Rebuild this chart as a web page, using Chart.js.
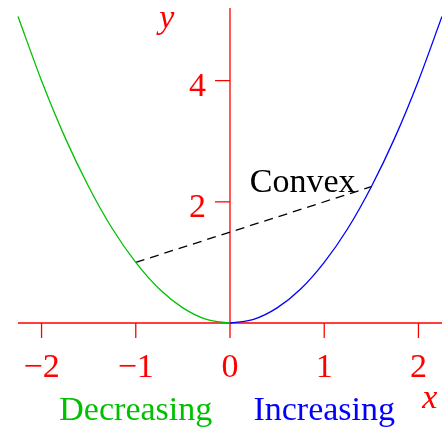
<!DOCTYPE html>
<html>
<head>
<meta charset="utf-8">
<script src="https://cdn.jsdelivr.net/npm/chart.js@4/dist/chart.umd.min.js"></script>
<style>
  body { margin: 0; background: #fff; }
  canvas { display: block; }
</style>
</head>
<body>
<canvas id="convexChart" width="442" height="428"></canvas>
<script>
// y = x^2, split into its decreasing and increasing halves
const leftX = [-2.25, -2, -1.75, -1.5, -1.25, -1, -0.75, -0.5, -0.25, 0];
const leftY = [5.06, 4, 3.06, 2.25, 1.56, 1, 0.56, 0.25, 0.06, 0];
const rightX = [0, 0.25, 0.5, 0.75, 1, 1.25, 1.5, 1.75, 2, 2.25];
const rightY = [0, 0.06, 0.25, 0.56, 1, 1.56, 2.25, 3.06, 4, 5.06];

// chord between two points on the curve
const chordX = [-1, 1.5];
const chordY = [1, 2.25];

// axis ticks
const xTicks = [-2, -1, 0, 1, 2];
const yTicks = [2, 4];

const RED = '#ff0000';
const GREEN = '#00c000';
const BLUE = '#0000ff';
const SERIF = '"Liberation Serif", "DejaVu Serif", serif';

function toPoints(xs, ys) {
    return xs.map((x, i) => ({ x: x, y: ys[i] }));
}

function fmt(v) {
    return v < 0 ? '\u2212' + Math.abs(v) : String(v);
}

// axes through the origin, tick labels and annotations
const axesPlugin = {
    id: 'originAxes',
    beforeDatasetsDraw(chart) {
        const ctx = chart.ctx;
        const xs = chart.scales.x;
        const ys = chart.scales.y;
        const area = chart.chartArea;
        const ox = xs.getPixelForValue(0);
        const oy = ys.getPixelForValue(0);

        ctx.save();
        ctx.strokeStyle = RED;
        ctx.lineWidth = 1.3;
        ctx.beginPath();
        ctx.moveTo(area.left, oy);
        ctx.lineTo(area.right, oy);
        ctx.moveTo(ox, area.top);
        ctx.lineTo(ox, oy);

        xTicks.forEach(v => {
            const px = xs.getPixelForValue(v);
            ctx.moveTo(px, oy);
            ctx.lineTo(px, oy + 15);
        });
        yTicks.forEach(v => {
            const py = ys.getPixelForValue(v);
            ctx.moveTo(ox, py);
            ctx.lineTo(ox - 15, py);
        });
        ctx.stroke();

        ctx.fillStyle = RED;
        ctx.font = '34px ' + SERIF;
        ctx.textBaseline = 'alphabetic';
        ctx.textAlign = 'center';
        xTicks.forEach(v => {
            ctx.fillText(fmt(v), xs.getPixelForValue(v), oy + 54);
        });
        ctx.textAlign = 'right';
        yTicks.forEach(v => {
            ctx.fillText(fmt(v), ox - 24, ys.getPixelForValue(v) + 15);
        });
        ctx.restore();
    },
    afterDraw(chart) {
        const ctx = chart.ctx;
        const xs = chart.scales.x;
        const ys = chart.scales.y;
        const oy = ys.getPixelForValue(0);

        ctx.save();
        ctx.textBaseline = 'alphabetic';

        ctx.font = 'italic 34px ' + SERIF;
        ctx.fillStyle = RED;
        ctx.textAlign = 'center';
        ctx.fillText('x', xs.getPixelForValue(2.12), oy + 85);
        ctx.fillText('y', xs.getPixelForValue(-0.67), ys.getPixelForValue(4.87));

        ctx.font = '34px ' + SERIF;
        ctx.fillStyle = GREEN;
        ctx.fillText('Decreasing', xs.getPixelForValue(-1), oy + 97);
        ctx.fillStyle = BLUE;
        ctx.fillText('Increasing', xs.getPixelForValue(1), oy + 97);

        ctx.fillStyle = '#000';
        ctx.textAlign = 'left';
        ctx.fillText('Convex', xs.getPixelForValue(0.21), ys.getPixelForValue(2.16));
        ctx.restore();
    }
};

new Chart(document.getElementById('convexChart'), {
    type: 'scatter',
    data: {
        datasets: [
            {
                label: 'Decreasing',
                data: toPoints(leftX, leftY),
                showLine: true,
                borderColor: GREEN,
                borderWidth: 1.3,
                pointRadius: 0,
                cubicInterpolationMode: 'monotone',
                clip: false
            },
            {
                label: 'Increasing',
                data: toPoints(rightX, rightY),
                showLine: true,
                borderColor: BLUE,
                borderWidth: 1.3,
                pointRadius: 0,
                cubicInterpolationMode: 'monotone',
                clip: false
            },
            {
                label: 'Chord',
                data: toPoints(chordX, chordY),
                showLine: true,
                borderColor: '#000',
                borderWidth: 1.3,
                borderDash: [9, 6],
                pointRadius: 0,
                clip: false
            }
        ]
    },
    options: {
        responsive: false,
        animation: false,
        layout: {
            padding: { left: 18, right: 0, top: 8, bottom: 105 }
        },
        plugins: {
            legend: { display: false },
            tooltip: { enabled: false }
        },
        scales: {
            x: { type: 'linear', min: -2.25, max: 2.25, display: false },
            y: { type: 'linear', min: 0, max: 5.2, display: false }
        }
    },
    plugins: [axesPlugin]
});
</script>
</body>
</html>
